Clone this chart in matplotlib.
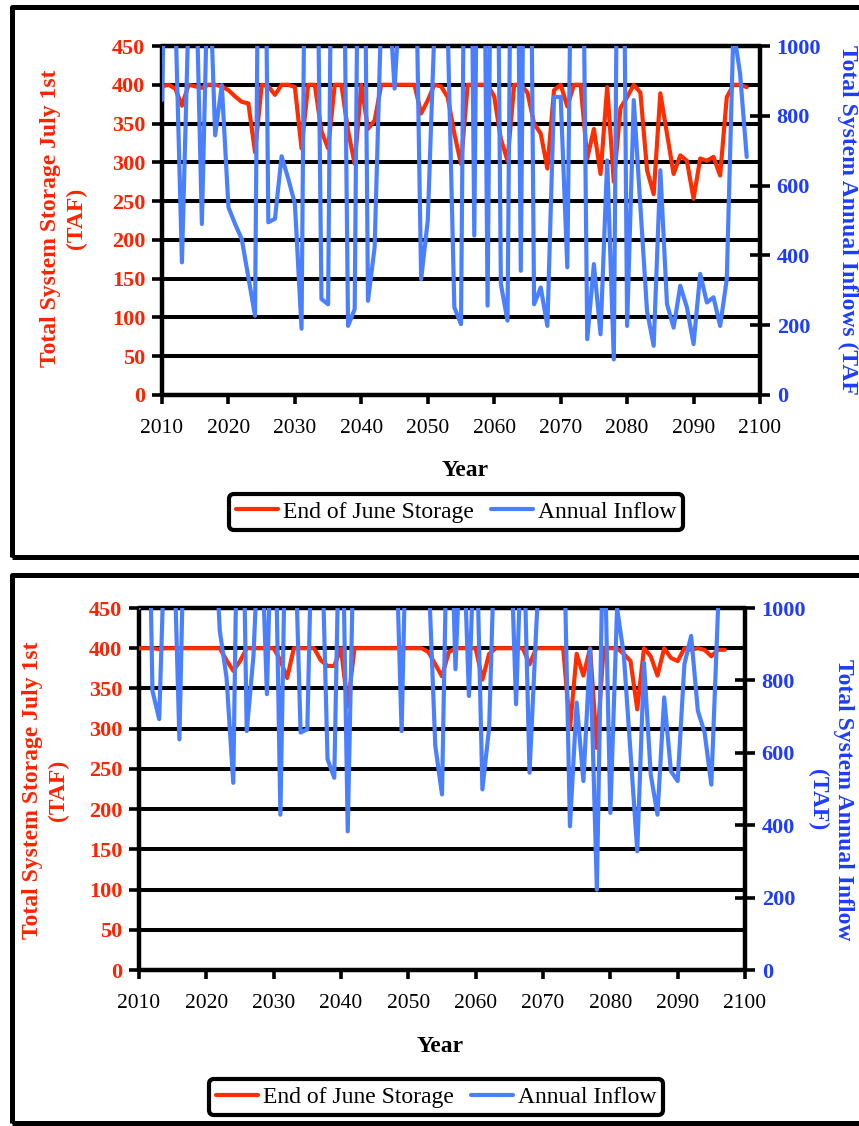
import matplotlib
matplotlib.use("Agg")
import matplotlib.pyplot as plt
from matplotlib.patches import Rectangle

plt.rcParams['font.family'] = ['Liberation Serif', 'DejaVu Serif']

W, H, DPI = 859, 1126, 100

# ---------------- data ----------------
years_top = list(range(2010, 2099))
storage_top = [398, 400, 395, 373, 400, 398, 396, 400, 400, 398,
               393, 385, 378, 376, 313, 400, 398, 387, 400, 400,
               397, 318, 400, 400, 340, 318, 400, 400, 341, 298,
               400, 343, 354, 400, 400, 400, 400, 400, 400, 363,
               380, 400, 398, 384, 337, 298, 400, 400, 400, 400,
               385, 330, 302, 400, 400, 390, 350, 337, 292, 393,
               400, 372, 400, 400, 305, 343, 285, 397, 275, 370,
               384, 400, 390, 290, 259, 389, 337, 285, 309, 302,
               253, 305, 302, 307, 283, 384, 400, 400, 397]
inflow_top = [845, 1800, 1100, 380, 1100, 1300, 490, 1300, 744, 888,
              538, 490, 447, 337, 227, 2500, 495, 505, 684, 620,
              548, 190, 2500, 2000, 275, 260, 2500, 2000, 198, 246,
              2500, 270, 423, 1100, 1200, 878, 1200, 1500, 1500, 332,
              500, 1050, 1500, 1050, 251, 203, 2500, 457, 2500, 256,
              2500, 318, 213, 2500, 356, 2500, 260, 308, 198, 854,
              854, 366, 2000, 2000, 160, 375, 174, 672, 102, 2500,
              198, 845, 540, 240, 141, 644, 261, 193, 313, 251,
              146, 347, 265, 280, 198, 332, 1050, 921, 682]

years_bot_storage = list(range(2010, 2098))
storage_bot = [400, 400, 400, 399, 400, 400, 400, 400, 400, 400,
               400, 400, 400, 385, 372, 384, 400, 400, 400, 400,
               400, 385, 363, 400, 400, 400, 400, 385, 378, 378,
               400, 328, 400, 400, 400, 400, 400, 400, 400, 400,
               400, 400, 400, 395, 380, 365, 395, 400, 400, 400,
               400, 361, 393, 400, 400, 400, 400, 400, 380, 400,
               400, 400, 400, 400, 300, 393, 366, 400, 276, 400,
               400, 400, 393, 384, 324, 400, 390, 366, 400, 388,
               384, 400, 398, 400, 398, 390, 398, 398]
years_bot_inflow = list(range(2010, 2097))
inflow_bot = [1000, 1800, 771, 693, 1300, 1300, 637, 1500, 1500, 1500,
              1500, 1300, 937, 808, 517, 1800, 660, 868, 1300, 762,
              1500, 429, 1500, 1300, 656, 665, 1500, 1300, 582, 531,
              1500, 383, 1300, 1500, 1500, 1500, 1500, 1300, 1300, 660,
              1500, 1500, 1300, 1100, 620, 485, 1500, 831, 1300, 757,
              1300, 499, 669, 1300, 1300, 1300, 734, 1300, 545, 946,
              1300, 1300, 1300, 1300, 397, 739, 522, 886, 222, 1300,
              434, 1000, 870, 600, 328, 849, 540, 429, 753, 549,
              522, 845, 923, 716, 656, 512, 1000]

x_ticks = list(range(2010, 2101, 10))
storage_ticks = list(range(0, 451, 50))
inflow_ticks = list(range(0, 1001, 200))
series_labels = ["End of June Storage", "Annual Inflow"]

RED = '#FF2D00'
BLUE = '#4A80FF'
RED_TXT = '#FF2200'
BLUE_TXT = '#1E3CFF'

fig = plt.figure(figsize=(W / DPI, H / DPI), dpi=DPI)


def px_rect(l, t, r, b):
    return [l / W, 1 - b / H, (r - l) / W, (b - t) / H]


def panel(rect, ys, s, yi, f):
    ax = fig.add_axes(rect)
    ax2 = ax.twinx()
    ax.set_xlim(2010, 2100)
    ax.set_ylim(0, 450)
    ax2.set_ylim(0, 1000)
    ax.set_xticks(x_ticks)
    ax.set_yticks(storage_ticks)
    ax2.set_yticks(inflow_ticks)
    ax.set_xticklabels([str(v) for v in x_ticks], fontsize=15.5)
    ax.set_yticklabels([str(v) for v in storage_ticks], fontsize=16,
                       fontweight='bold', color=RED_TXT)
    ax2.set_yticklabels([str(v) for v in inflow_ticks], fontsize=16,
                        fontweight='bold', color=BLUE_TXT)
    ax.yaxis.grid(True, color='black', lw=2.9)
    ax.set_axisbelow(True)
    for side in ['left', 'bottom', 'top']:
        ax.spines[side].set_linewidth(3.2)
        ax.spines[side].set_capstyle('round')
    ax.spines['right'].set_visible(False)
    for side in ['left', 'bottom', 'top']:
        ax2.spines[side].set_visible(False)
    ax2.spines['right'].set_linewidth(3.2)
    ax2.spines['right'].set_capstyle('round')
    ax.tick_params(axis='y', direction='out', length=7, width=2.6, pad=5)
    ax.tick_params(axis='x', direction='out', length=6.5, width=2.6, pad=11)
    ax2.tick_params(axis='y', direction='inout', length=14, width=2.6, pad=5)
    l1, = ax.plot(ys, s, color=RED, lw=3.0, solid_joinstyle='round',
                  solid_capstyle='round', zorder=3)
    l2, = ax2.plot(yi, f, color=BLUE, lw=3.0, solid_joinstyle='round',
                   solid_capstyle='round', zorder=3)
    return ax, ax2, l1, l2


def legend_at(handles, cx, cy):
    leg = fig.legend(handles, series_labels, loc='center',
                     bbox_to_anchor=(cx / W, 1 - cy / H), ncol=2,
                     fontsize=17, handlelength=1.8, handletextpad=0.2,
                     columnspacing=0.7, borderpad=0.3, frameon=True,
                     fancybox=True, framealpha=1, edgecolor='black')
    leg.get_frame().set_linewidth(3)
    return leg


# ---------------- top panel ----------------
axT, axT2, r1, b1 = panel(px_rect(162, 46, 760, 395), years_top, storage_top,
                          years_top, inflow_top)
fig.text(465 / W, 1 - 470 / H, "Year", ha='center', va='center',
         fontsize=17, fontweight='bold')
fig.text(64 / W, 1 - 218 / H, "Total System Storage July 1st\n(TAF)",
         rotation=90, ha='center', va='center', multialignment='center',
         fontsize=17, fontweight='bold', color=RED_TXT, linespacing=1.3)
fig.text(848 / W, 1 - 45 / H, "Total System Annual Inflows (TAF",
         rotation=270, ha='center', va='top',
         fontsize=17, fontweight='bold', color=BLUE_TXT)
legend_at([r1, b1], 456, 512)

# ---------------- bottom panel ----------------
axB, axB2, r2, b2 = panel(px_rect(139, 608, 745, 970), years_bot_storage,
                          storage_bot, years_bot_inflow, inflow_bot)
fig.text(440 / W, 1 - 1047 / H, "Year", ha='center', va='center',
         fontsize=17, fontweight='bold')
fig.text(46 / W, 1 - 790 / H, "Total System Storage July 1st\n(TAF)",
         rotation=90, ha='center', va='center', multialignment='center',
         fontsize=17, fontweight='bold', color=RED_TXT, linespacing=1.3)
fig.text(830 / W, 1 - 800 / H, "Total System Annual Inflow\n(TAF)",
         rotation=270, ha='center', va='center', multialignment='center',
         fontsize=17, fontweight='bold', color=BLUE_TXT, linespacing=1.3)
legend_at([r2, b2], 436, 1097)

# ---------------- outer frames ----------------
for (t, b) in [(7, 557), (575, 1123)]:
    fig.add_artist(Rectangle((12 / W, 1 - b / H), (900 - 12) / W, (b - t) / H,
                             transform=fig.transFigure, fill=False,
                             lw=3.6, ec='black', joinstyle='round'))

fig.savefig("out.png", dpi=DPI)
